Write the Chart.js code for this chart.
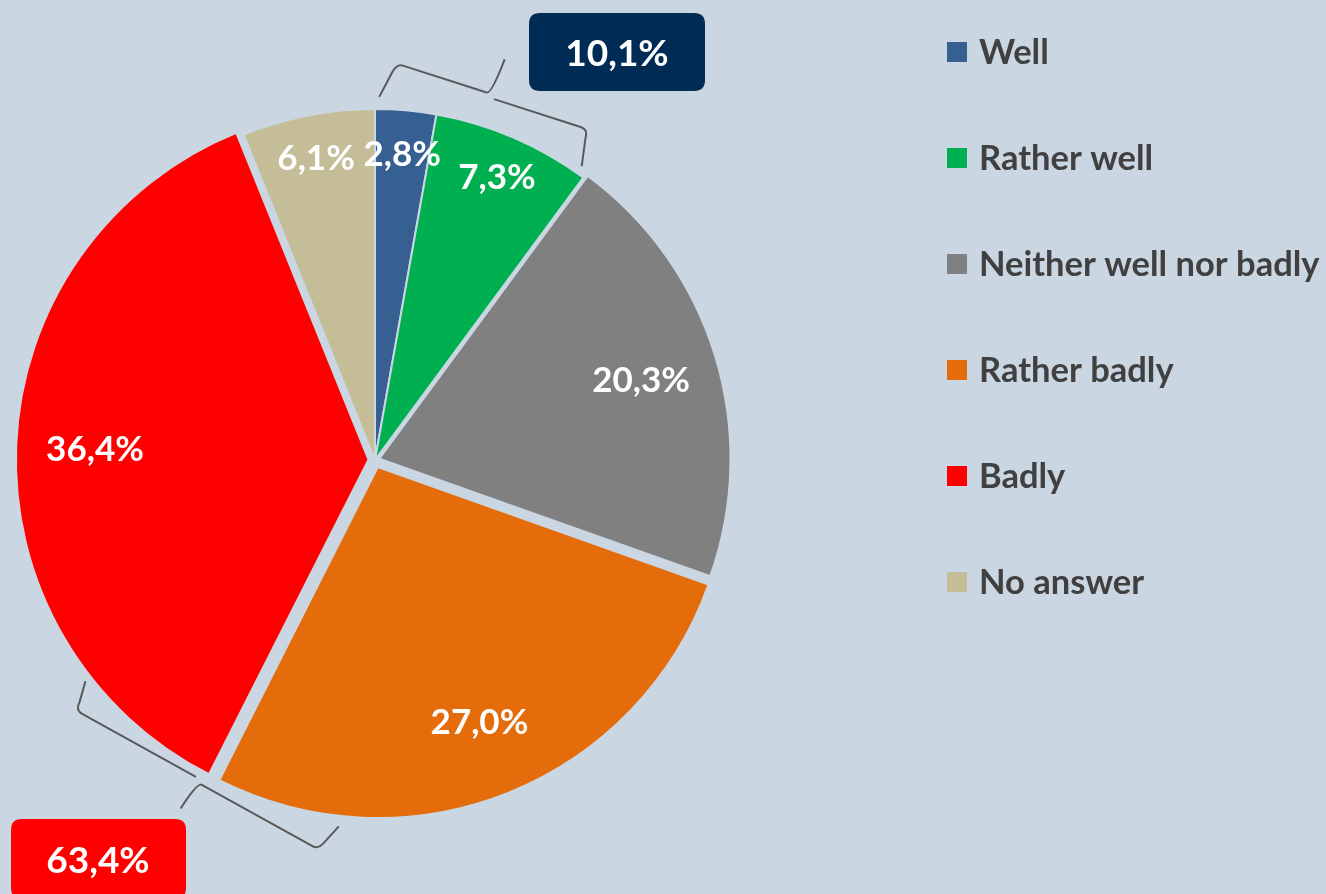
<!DOCTYPE html>
<html>
<head>
<meta charset="utf-8">
<script src="https://cdn.jsdelivr.net/npm/chart.js@4.4.0/dist/chart.umd.min.js"></script>
<style>
html, body { margin: 0; padding: 0; background: #cad6e2; }
#wrap { width: 1326px; height: 894px; position: relative; }
</style>
</head>
<body>
<div id="wrap"><canvas id="pieChart"></canvas></div>
<script>
var labels = ['Well', 'Rather well', 'Neither well nor badly', 'Rather badly', 'Badly', 'No answer'];
var values = [2.8, 7.3, 20.3, 27.0, 36.4, 6.1];
// slices summed in the two callouts
var goodGroup = [0, 1];
var badGroup = [3, 4];

var colors = ['#376092', '#00b050', '#808080', '#e46c0a', '#ff0000', '#c4bd97'];
var offsets = [0, 0, 18, 30, 26, 0];
var bg = '#cad6e2';
var fontFamily = 'Lato, "Open Sans", sans-serif';

function fmt(v) {
    return v.toFixed(1).replace('.', ',') + '%';
}
function groupSum(idx) {
    var s = 0;
    idx.forEach(function (i) { s += values[i]; });
    return Math.round(s * 10) / 10;
}

function roundRect(ctx, x, y, w, h, r) {
    ctx.beginPath();
    ctx.moveTo(x + r, y);
    ctx.lineTo(x + w - r, y);
    ctx.quadraticCurveTo(x + w, y, x + w, y + r);
    ctx.lineTo(x + w, y + h - r);
    ctx.quadraticCurveTo(x + w, y + h, x + w - r, y + h);
    ctx.lineTo(x + r, y + h);
    ctx.quadraticCurveTo(x, y + h, x, y + h - r);
    ctx.lineTo(x, y + r);
    ctx.quadraticCurveTo(x, y, x + r, y);
    ctx.closePath();
}

// curly brace laid tangent to the pie, angle in degrees clockwise from top
function drawBrace(ctx, cx, cy, angleDeg, dist, half, hook, nub) {
    var a = angleDeg * Math.PI / 180;
    var nx = Math.sin(a), ny = -Math.cos(a);
    var ux = Math.cos(a), uy = Math.sin(a);
    function P(s, h) {
        return [cx + nx * (dist + h) + ux * s, cy + ny * (dist + h) + uy * s];
    }
    function M(s, h) { var p = P(s, h); ctx.moveTo(p[0], p[1]); }
    function L(s, h) { var p = P(s, h); ctx.lineTo(p[0], p[1]); }
    function Q(s1, h1, s2, h2) {
        var p = P(s1, h1), q = P(s2, h2);
        ctx.quadraticCurveTo(p[0], p[1], q[0], q[1]);
    }
    ctx.save();
    ctx.strokeStyle = '#595959';
    ctx.lineWidth = 2;
    ctx.lineJoin = 'round';
    ctx.beginPath();
    M(-half - 6, -hook);
    L(-half - 1, -9);
    Q(-half + 1, 0, -half + 7, 0);
    L(-6, 0);
    Q(-1, 0, 1, nub);
    M(3, -4);
    L(half - 7, -4);
    Q(half + 1, -4, half + 1, -13);
    L(half + 6, -hook - 4);
    ctx.stroke();
    ctx.restore();
}

var extras = {
    id: 'extras',
    afterDatasetsDraw: function (chart) {
        var ctx = chart.ctx;
        var meta = chart.getDatasetMeta(0);
        var arc0 = meta.data[0];
        var cx = arc0.x, cy = arc0.y;

        // slice labels
        ctx.save();
        ctx.fillStyle = '#ffffff';
        ctx.font = 'bold 35px ' + fontFamily;
        ctx.textAlign = 'center';
        ctx.textBaseline = 'middle';
        meta.data.forEach(function (arc, i) {
            var mid = (arc.startAngle + arc.endAngle) / 2;
            var t = (arc.options.offset || 0) / 4;
            var frac = values[i] < 10 ? 0.88 : 0.78;
            var r = arc.outerRadius * frac + t;
            ctx.fillText(fmt(values[i]), arc.x + Math.cos(mid) * r, arc.y + Math.sin(mid) * r + 2);
        });
        ctx.restore();

        // braces
        drawBrace(ctx, cx, cy, 17.8, 384, 101, 37, 37);
        drawBrace(ctx, cx, cy, 209, 368, 140, 30, 31);

        // callout boxes
        ctx.save();
        ctx.fillStyle = '#002b55';
        roundRect(ctx, 529, 13, 176, 78, 11);
        ctx.fill();
        ctx.fillStyle = '#ff0000';
        roundRect(ctx, 11, 819, 175, 80, 11);
        ctx.fill();
        ctx.fillStyle = '#ffffff';
        ctx.font = 'bold 37px ' + fontFamily;
        ctx.textAlign = 'center';
        ctx.textBaseline = 'middle';
        ctx.fillText(fmt(groupSum(goodGroup)), 617, 54);
        ctx.fillText(fmt(groupSum(badGroup)), 98, 861);
        ctx.restore();

        // legend
        ctx.save();
        ctx.font = 'bold 34.5px ' + fontFamily;
        ctx.textAlign = 'left';
        ctx.textBaseline = 'middle';
        chart.data.labels.forEach(function (lab, i) {
            var y = 52 + i * 106;
            ctx.fillStyle = chart.data.datasets[0].backgroundColor[i];
            ctx.fillRect(947, y - 10, 20, 20);
            ctx.fillStyle = '#404040';
            ctx.fillText(lab, 979, y + 1);
        });
        ctx.restore();
    }
};

var ctx = document.getElementById('pieChart').getContext('2d');
var pieChart = new Chart(ctx, {
    type: 'pie',
    data: {
        labels: labels,
        datasets: [{
            data: values,
            backgroundColor: colors,
            borderColor: bg,
            borderWidth: 2,
            offset: offsets
        }]
    },
    options: {
        responsive: true,
        maintainAspectRatio: false,
        animation: false,
        events: [],
        radius: 351,
        layout: {
            padding: { left: 0, right: 576, top: 26, bottom: 0 }
        },
        plugins: {
            legend: { display: false },
            tooltip: { enabled: false }
        }
    },
    plugins: [extras]
});
</script>
</body>
</html>
